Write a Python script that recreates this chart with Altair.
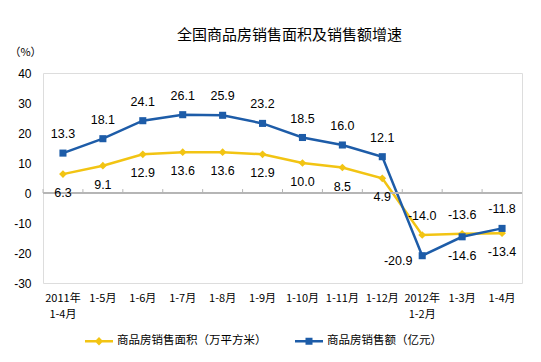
import altair as alt
import pandas as pd

# ---- data ----
categories = ["2011年|1-4月", "1-5月", "1-6月", "1-7月", "1-8月", "1-9月",
              "1-10月", "1-11月", "1-12月", "2012年|1-2月", "1-3月", "1-4月"]
area_growth = [6.3, 9.1, 12.9, 13.6, 13.6, 12.9, 10.0, 8.5, 4.9, -14.0, -13.6, -13.4]
amount_growth = [13.3, 18.1, 24.1, 26.1, 25.9, 23.2, 18.5, 16.0, 12.1, -20.9, -14.6, -11.8]
series_names = ["商品房销售面积（万平方米）", "商品房销售额（亿元）"]
y_ticks = [40, 30, 20, 10, 0, -10, -20, -30]

# label placement (style): "a" above, "b" below, "l" left-below
area_pos = ["b"] * 9 + ["a", "a", "b"]
amount_pos = ["a"] * 9 + ["l", "b", "a"]

rows = []
for i, c in enumerate(categories):
    rows.append({"cat": c, "series": series_names[0], "v": area_growth[i], "pos": area_pos[i]})
    rows.append({"cat": c, "series": series_names[1], "v": amount_growth[i], "pos": amount_pos[i]})
df = pd.DataFrame(rows)
cat_df = pd.DataFrame({"cat": categories})

YELLOW = "#F2C413"
BLUE = "#1D5CA8"
GRAY = "#b5b5b5"
NUM_FONT = "Liberation Sans"
CJK_FONT = "Noto Sans CJK SC"

xscale = alt.Scale(type="band", domain=categories, paddingInner=0, paddingOuter=0)
yscale = alt.Scale(domain=[-30, 40], nice=False, zero=False)
cscale = alt.Scale(domain=series_names, range=[YELLOW, BLUE])

line_sym = "M-1,-0.09H-0.21L0,-0.3L0.21,-0.09H1V0.09H0.21L0,0.3L-0.21,0.09H-1Z"
sq_sym = "M-1,-0.09H-0.25V-0.25H0.25V-0.09H1V0.09H0.25V0.25H-0.25V0.09H-1Z"
sscale = alt.Scale(domain=series_names, range=[line_sym, sq_sym])

leg = alt.Legend(orient="none", legendX=42, legendY=254, direction="horizontal",
                 title=None, symbolSize=784, symbolStrokeWidth=0, symbolOpacity=1,
                 labelFont=CJK_FONT, labelFontSize=11.5, labelColor="#000000",
                 labelOffset=4, columnPadding=28, padding=0)

xaxis = alt.Axis(title=None, labelAngle=0, ticks=False, domain=False, bandPosition=0.5,
                 labelPadding=9, labelFont=CJK_FONT, labelFontSize=11,
                 labelColor="#000000", labelLineHeight=16, labelOverlap=False,
                 labelFlush=False, labelExpr="split(datum.label, '|')")
yaxis = alt.Axis(values=y_ticks, grid=False, ticks=False, domain=False,
                 labelPadding=12, labelFont=NUM_FONT, labelFontSize=12,
                 labelColor="#000000", labelOverlap=False, labelFlush=False,
                 labelExpr="replace(datum.label, '\u2212', '-')",
                 title="（%）", titleAngle=0, titleX=-18, titleY=-21,
                 titleAlign="center", titleBaseline="middle",
                 titleFont=CJK_FONT, titleFontSize=11, titleFontWeight="normal",
                 titleColor="#000000")
X = alt.X("cat:N", scale=xscale, bandPosition=0.5, sort=categories, axis=xaxis)
Y = alt.Y("v:Q", scale=yscale, axis=yaxis)

base = alt.Chart(df)

zero_rule = alt.Chart(cat_df).mark_rule(color=GRAY, strokeWidth=1).encode(
    y=alt.datum(0, scale=yscale, axis=yaxis))
ticks = alt.Chart(cat_df).mark_rule(color=GRAY, strokeWidth=1).encode(
    x=alt.X("cat:N", scale=xscale, bandPosition=0, sort=categories, axis=xaxis),
    y=alt.datum(0, scale=yscale, axis=yaxis), y2=alt.datum(1.3))

lines = base.mark_line(strokeWidth=2.5).encode(
    x=X, y=Y, color=alt.Color("series:N", scale=cscale, legend=leg),
    detail="series:N")

pts_area = base.transform_filter(alt.datum.series == series_names[0]).mark_point(
    shape="diamond", filled=True, size=60, opacity=1).encode(
    x=X, y=Y, color=alt.Color("series:N", scale=cscale, legend=leg))
pts_amount = base.transform_filter(alt.datum.series == series_names[1]).mark_point(
    shape="square", filled=True, size=50, opacity=1).encode(
    x=X, y=Y, color=alt.Color("series:N", scale=cscale, legend=leg))

legend_layer = base.transform_filter("false").mark_point(filled=True, opacity=1).encode(
    x=X, y=Y,
    color=alt.Color("series:N", scale=cscale, legend=leg),
    shape=alt.Shape("series:N", scale=sscale, legend=leg))

def labels(pos, dx, dy):
    return base.transform_filter(alt.datum.pos == pos).transform_calculate(
        lbl="replace(format(datum.v, '.1f'), '\u2212', '-')"
    ).mark_text(
        font=NUM_FONT, fontSize=12.5, color="#000000", dx=dx, dy=dy,
        baseline="middle", align="center").encode(
        x=X, y=Y, text="lbl:N")

chart = alt.layer(
    lines, pts_area, pts_amount, legend_layer, zero_rule, ticks,
    labels("a", 0, -19), labels("b", 0, 19), labels("l", -24, 5)
).properties(
    width=479, height=210,
    title=alt.TitleParams("全国商品房销售面积及销售额增速", font=CJK_FONT, fontSize=15,
                          fontWeight="normal", color="#000000", anchor="middle",
                          dx=7, offset=3),
    autosize=alt.AutoSizeParams(type="none"),
    padding={"left": 35, "top": 65, "right": 10, "bottom": 75},
).configure_view(stroke=GRAY, strokeWidth=1).configure(background="white")

chart.save("out.html", embed_options={"renderer": "svg", "actions": False})
